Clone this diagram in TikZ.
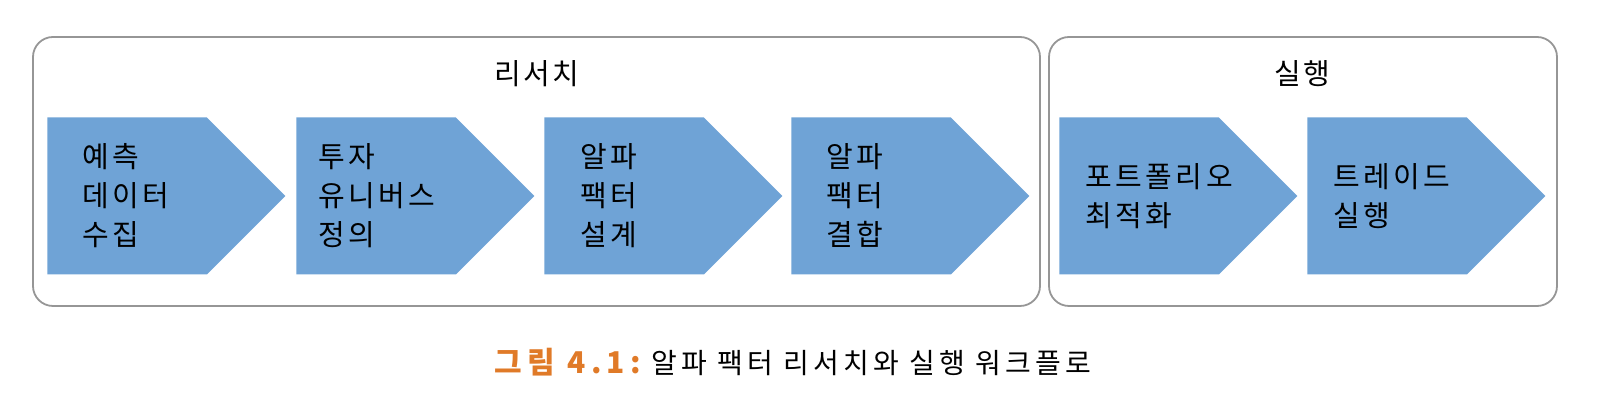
\documentclass[tikz,border=0pt]{standalone}
\usepackage{xcolor}
\usepackage{fontspec}
\setmainfont{Noto Sans CJK KR}
\usepackage{tikz}
\usetikzlibrary{shapes.symbols, positioning, calc}
\definecolor{stepblue}{RGB}{111,163,214}
\definecolor{framegray}{RGB}{150,150,150}
\definecolor{figorange}{RGB}{224,122,40}
\tikzstyle{chevron} = [signal, signal to=east, signal pointer angle=90, minimum width=119pt, minimum height=78.5pt, inner sep=0pt, fill=stepblue, draw=none]
\tikzstyle{steptext} = [align=left, font=\fontsize{14.5}{19.5}\selectfont\addfontfeatures{LetterSpace=12}, inner sep=0pt]
\tikzstyle{phasetitle} = [font=\fontsize{14.5}{17}\selectfont\addfontfeatures{LetterSpace=8}]
\tikzstyle{phase} = [draw=framegray, line width=0.9pt, rounded corners=10pt]

\begin{document}
\begin{tikzpicture}[x=0.5pt, y=0.5pt]
          \useasboundingbox (0,0) rectangle (1612,406);

          \draw[phase] (33,100) rectangle (1040,369);
          \draw[phase] (1049,100) rectangle (1557,369);

          \node[phasetitle] (research) at (537,332) {리서치};
          \node[phasetitle] (execution) at (1302,332) {실행};

          \node[chevron, anchor=west] (s1) at (47,210) {};
          \node[chevron, right=5pt of s1] (s2) {};
          \node[chevron, right=4.5pt of s2] (s3) {};
          \node[chevron, right=4pt of s3] (s4) {};
          \node[chevron, anchor=west] (s5) at (1059,210) {};
          \node[chevron, right=4.5pt of s5] (s6) {};

          \node[steptext, right=17.5pt of s1.west] (t1) {예측\\데이터\\수집};
          \node[steptext, right=11pt of s2.west] (t2) {투자\\유니버스\\정의};
          \node[steptext, right=18pt of s3.west] (t3) {알파\\팩터\\설계};
          \node[steptext, right=17.5pt of s4.west] (t4) {알파\\팩터\\결합};
          \node[steptext, right=13pt of s5.west] (t5) {포트폴리오\\최적화};
          \node[steptext, right=13pt of s6.west] (t6) {트레이드\\실행};

          \node[font=\fontsize{14}{16}\selectfont] (caption) at (793,44) {{\color{figorange}\fontsize{15}{16}\selectfont\bfseries\addfontfeatures{LetterSpace=18}그림 4.1:}\hspace{5pt}{\addfontfeatures{LetterSpace=15}알파 팩터 리서치와 실행 워크플로}};
      \end{tikzpicture}
\end{document}
